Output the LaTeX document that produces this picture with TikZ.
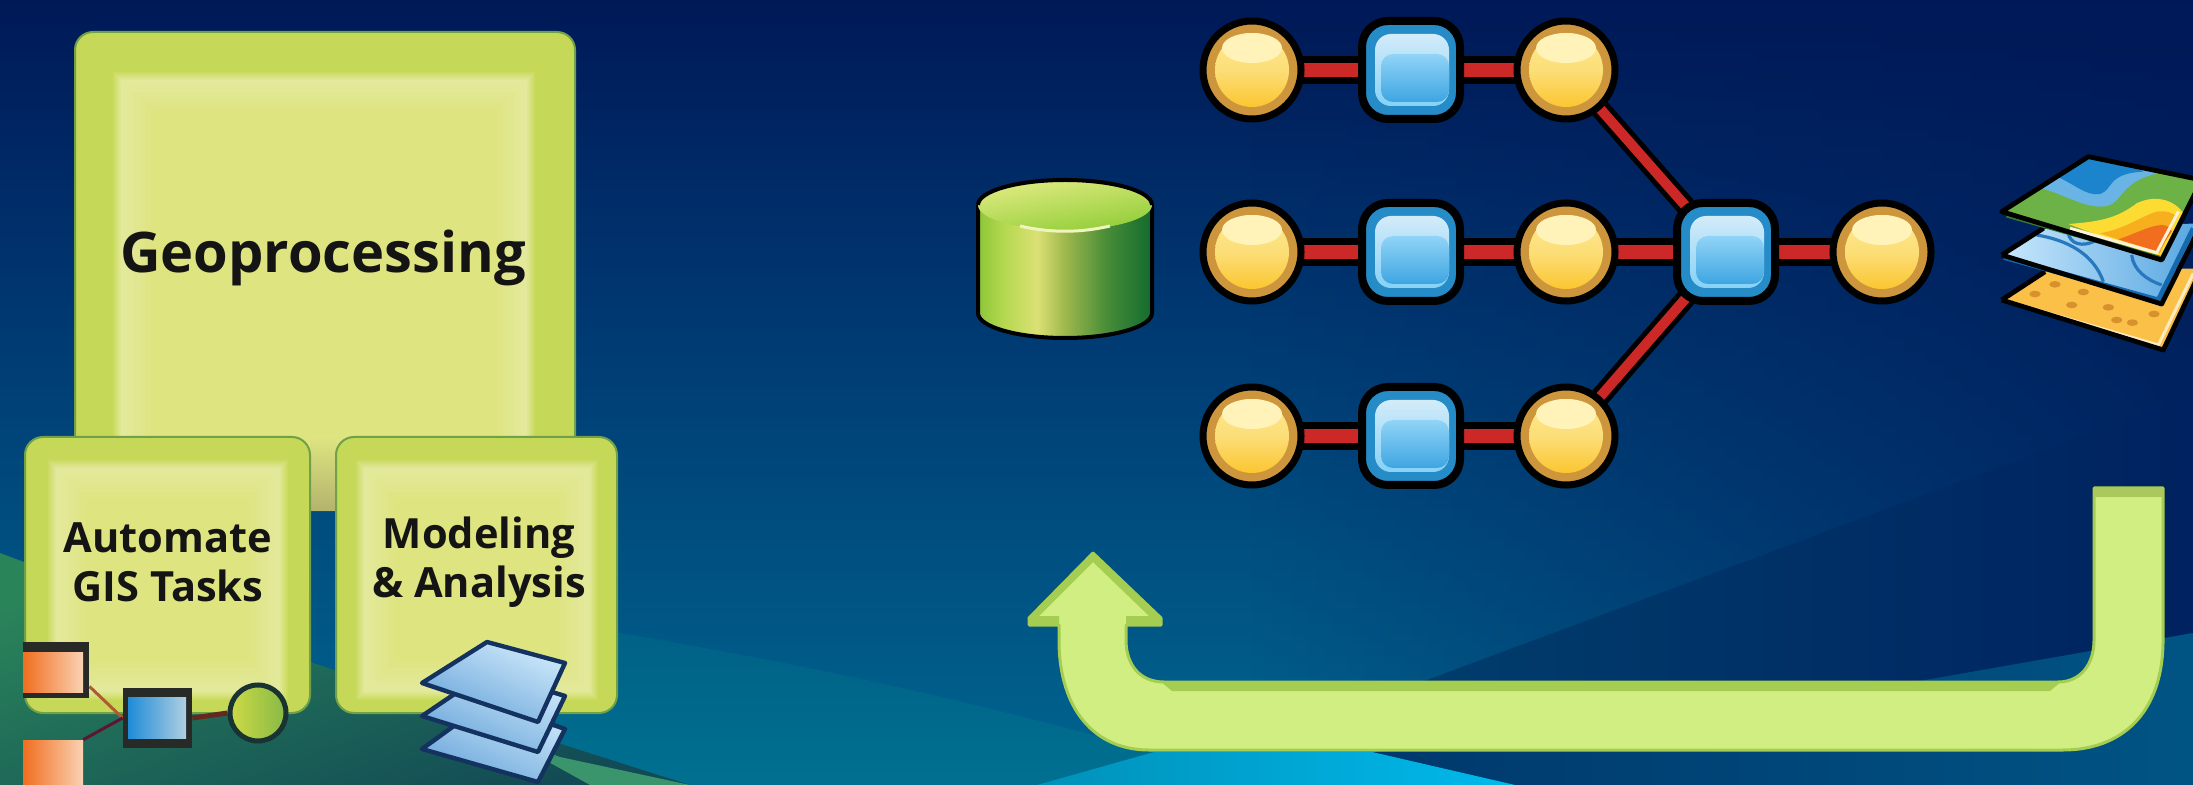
\documentclass[tikz,border=0pt]{standalone}
\usepackage{fontspec}
\setmainfont{Open Sans}
\newfontfamily\lab{Open Sans}
\usetikzlibrary{calc,fadings}
\pgfdeclarelayer{bg}\pgfdeclarelayer{panels}\pgfdeclarelayer{links}
\pgfsetlayers{bg,panels,links,main}
\definecolor{navytop}{RGB}{0,25,88}
\definecolor{bandgreen}{RGB}{198,216,88}
\definecolor{edgegreen}{RGB}{112,160,72}
\definecolor{innerlight}{RGB}{227,233,155}
\definecolor{innermid}{RGB}{222,228,128}
\definecolor{arrowfill}{RGB}{208,238,130}
\definecolor{arrowedge}{RGB}{165,205,82}
\definecolor{linkred}{RGB}{205,40,40}
\definecolor{gold}{RGB}{205,150,60}
\definecolor{blueb}{RGB}{38,140,200}
\pgfdeclareverticalshading{bgshade}{100bp}{
 rgb(0bp)=(0,0.40,0.56); rgb(25bp)=(0,0.40,0.56); rgb(42bp)=(0,0.30,0.50);
 rgb(60bp)=(0,0.19,0.42); rgb(75bp)=(0,0.095,0.34); rgb(100bp)=(0,0.095,0.34)}
\pgfdeclarehorizontalshading{cylside}{100bp}{
 rgb(0bp)=(0.55,0.78,0.22); rgb(25bp)=(0.55,0.78,0.22); rgb(33bp)=(0.72,0.85,0.32);
 rgb(42bp)=(0.86,0.88,0.46); rgb(50bp)=(0.62,0.72,0.30); rgb(62bp)=(0.28,0.55,0.22);
 rgb(75bp)=(0.07,0.42,0.18); rgb(100bp)=(0.07,0.42,0.18)}
\tikzset{
 x=0.5pt,y=-0.5pt,
 panel/.style={draw=edgegreen,line width=1pt,fill=bandgreen,rounded corners=9pt,inner sep=0pt},
 boxtext/.style={text=black!92,inner sep=0pt,align=center},
 goldnode/.style={circle,draw=black,line width=3.5pt,fill=gold,minimum size=49pt,inner sep=0pt,
  path picture={
   \shade[top color={rgb,255:red,255;green,236;blue,150},bottom color={rgb,255:red,250;green,190;blue,25},middle color={rgb,255:red,252;green,222;blue,120}]
     (path picture bounding box.center) circle[radius=18.5pt];
   \fill[fill={rgb,255:red,255;green,243;blue,185}] ([yshift=11pt]path picture bounding box.center) ellipse[x radius=15pt,y radius=7.5pt];
  }},
 bluenode/.style={rectangle,rounded corners=13pt,draw=black,line width=4pt,fill=blueb,minimum size=49pt,inner sep=0pt,
  path picture={
   \shade[top color={rgb,255:red,225;green,240;blue,250},bottom color={rgb,255:red,120;green,205;blue,245},rounded corners=8pt]
     ([xshift=-18pt,yshift=-18pt]path picture bounding box.center) rectangle ([xshift=19pt,yshift=18pt]path picture bounding box.center);
   \shade[top color={rgb,255:red,145;green,212;blue,248},bottom color={rgb,255:red,62;green,165;blue,225},rounded corners=6pt]
     ([xshift=-15pt,yshift=-16pt]path picture bounding box.center) rectangle ([xshift=19pt,yshift=8pt]path picture bounding box.center);
  }},
 linkline/.style={line width=7pt,draw=linkred,preaction={draw=black,line width=14pt}},
 diagline/.style={line width=5pt,draw=linkred,preaction={draw=black,line width=10pt}},
 orangebox/.style={rectangle,inner sep=0pt,minimum width=30pt,minimum height=20pt,
   left color={rgb,255:red,240;green,110;blue,30},right color={rgb,255:red,250;green,210;blue,180}},
 framebox/.style={rectangle,inner sep=0pt,fill={rgb,255:red,40;green,42;blue,40}},
 sheet/.style={draw={rgb,255:red,20;green,50;blue,95},line width=2.2pt,line join=round,
   left color={rgb,255:red,205;green,232;blue,250},right color={rgb,255:red,105;green,165;blue,218},shading angle=-25},
 mapedge/.style={draw=black,line width=2.4pt,line join=round},
}
\newcommand{\softpanel}[4]{%
 \foreach \i/\m in {0/18,1/40,2/62,3/82,4/100}{%
  \fill[innerlight!\m!bandgreen] ({#1+\i*2},{#2+\i*2}) rectangle ({#3-\i*2},{#4-\i*2});}
 \foreach \i/\m in {1/80,2/60,3/40,4/20,5/0}{%
  \fill[innerlight!\m!innermid] ({#1+8+\i*6},{#2+8+\i*6}) rectangle ({#3-8-\i*6},{#4-8-\i*6});}
}
\begin{document}
\begin{tikzpicture}
\useasboundingbox (0,0) rectangle (2193,785);
\clip (0,0) rectangle (2193,785);
\begin{pgfonlayer}{bg}
 \shade[shading=bgshade] (0,0) rectangle (2193,785);
 % darkening towards the right
 \fill[navytop,opacity=.75,path fading=west] (1250,0) rectangle (2193,785);
 % navy wedge at the right
 \shade[left color={rgb,255:red,0;green,62;blue,108},right color={rgb,255:red,0;green,34;blue,96}]
   (1400,690) -- (2193,395) -- (2193,785) -- (1400,785) -- cycle;
 % lower right wedge
 \shade[left color={rgb,255:red,0;green,56;blue,108},right color={rgb,255:red,0;green,84;blue,132}]
   (1925,680) -- (2193,633) -- (2193,785) -- (1515,785) -- (1372,752) -- cycle;
 % teal band
 \shade[top color={rgb,255:red,0;green,95;blue,132},bottom color={rgb,255:red,0;green,112;blue,145}]
   (480,610) .. controls (700,645) and (900,680) .. (1154,752) -- (1037,785) -- (480,785) -- cycle;
 % bright cyan
 \shade[left color={rgb,255:red,0;green,145;blue,185},right color={rgb,255:red,0;green,185;blue,235}]
   (1037,785) -- (1154,752) -- (1372,752) -- (1515,785) -- cycle;
 % hill
 \shade[top color={rgb,255:red,42;green,132;blue,90},bottom color={rgb,255:red,18;green,75;blue,85},shading angle=20]
   (0,553) .. controls (150,610) and (420,700) .. (690,785) -- (0,785) -- cycle;
 \fill[fill={rgb,255:red,58;green,148;blue,108}] (500,735) -- (560,757) -- (690,785) -- (590,785) -- cycle;
\end{pgfonlayer}
\begin{pgfonlayer}{panels}
 \node[panel,minimum width=250pt,minimum height=239pt] (geobox) at (325,271) {};
 \softpanel{113}{72}{535}{510}
 \shade[top color=innermid,bottom color={rgb,255:red,180;green,180;blue,110}] (310,437) rectangle (336,510);
 \node[panel,minimum width=142.5pt,minimum height=138pt] (autobox) at (167.5,575) {};
 \softpanel{48}{460}{288}{700}
 \node[panel,minimum width=140.5pt,minimum height=138pt] (modbox) at (476.5,575) {};
 \softpanel{356}{460}{598}{700}
\end{pgfonlayer}
% labels
\node[boxtext,font=\lab\bfseries\fontsize{28}{32}\selectfont] (geotext) at (323,258) {Geoprocessing};
\node[boxtext,font=\lab\bfseries\fontsize{20.8}{24.5}\selectfont] (autotext) at (168,562) {Automate\\GIS Tasks};
\node[boxtext,font=\lab\bfseries\fontsize{20.8}{24.5}\selectfont] (modtext) at (479,562) {Modeling\\\& Analysis};
% small flow
\node[framebox,minimum width=33pt,minimum height=28pt] (of1) at (56,670) {};
\node[orangebox] (or1) at (53,672) {};
\node[orangebox,minimum height=23pt] (or2) at (53,763) {};
\node[framebox,minimum width=34.5pt,minimum height=30pt] (ff) at (157.5,718) {};
\node[rectangle,inner sep=0pt,minimum width=29pt,minimum height=20.5pt,
  left color={rgb,255:red,30;green,140;blue,215},right color={rgb,255:red,175;green,207;blue,225}] (fb) at (157,717.5) {};
\node[circle,inner sep=0pt,minimum size=28pt,draw={rgb,255:red,25;green,50;blue,50},line width=2.5pt,
  left color={rgb,255:red,205;green,218;blue,70},right color={rgb,255:red,135;green,185;blue,70}] (fc) at (258,713) {};
\begin{pgfonlayer}{links}
 \draw[draw={rgb,255:red,175;green,90;blue,50},line width=1.5pt] (of1.south east) ++(0,-12) -- (ff.west);
 \draw[draw={rgb,255:red,95;green,20;blue,50},line width=1.5pt] (or2.north east) -- (ff.west);
 \draw[draw={rgb,255:red,100;green,40;blue,30},line width=2.5pt] (ff.east) -- (fc.west);
\end{pgfonlayer}
% stack of sheets
\foreach \d in {60,30,0}{
 \shade[sheet] (487,{642+\d*1.0}) -- (565,{663+\d*1.1}) -- (538,{722+\d}) -- (422,{683+\d*1.1}) -- cycle;
}
% cylinder
\shade[shading=cylside] (978,205) -- (978,313) arc[start angle=180,end angle=0,x radius=87,y radius=25] -- (1152,205) -- cycle;
\draw[black,line width=2pt] (978,205) -- (978,313) arc[start angle=180,end angle=0,x radius=87,y radius=25] -- (1152,205);
\shade[left color={rgb,255:red,225;green,235;blue,130},right color={rgb,255:red,145;green,205;blue,55},shading angle=10]
  (1065,205) ellipse[x radius=87,y radius=25];
\draw[black,line width=2pt] (978,205) arc[start angle=180,end angle=360,x radius=87,y radius=25];
\draw[draw={rgb,255:red,240;green,245;blue,190},line width=1.5pt] (1020,226) .. controls (1050,233) and (1080,233) .. (1110,226);
% graph
\node[goldnode] (a1) at (1252,70) {};
\node[bluenode] (b1) at (1411,70) {};
\node[goldnode] (c1) at (1566,70) {};
\node[goldnode] (a2) at (1252,252) {};
\node[bluenode] (b2) at (1411,252) {};
\node[goldnode] (c2) at (1566,252) {};
\node[bluenode] (hub) at (1726,252) {};
\node[goldnode] (d2) at (1882,252) {};
\node[goldnode] (a3) at (1252,436) {};
\node[bluenode] (b3) at (1411,436) {};
\node[goldnode] (c3) at (1566,436) {};
\begin{pgfonlayer}{links}
 \foreach \p/\q in {a1/b1,b1/c1,a2/b2,b2/c2,c2/hub,hub/d2,a3/b3,b3/c3}
  \draw[linkline] (\p.center) -- (\q.center);
 \foreach \p/\q in {c1/hub,c3/hub}
  \draw[diagline] (\p.center) -- (\q.center);
\end{pgfonlayer}
% arrow
\path[fill=arrowfill,draw=arrowedge,line width=1.5pt,line join=round]
 (1093,553) -- (1161,618) -- (1161,625) -- (1126,625) -- (1126,640)
 .. controls (1126,665) and (1140,682) .. (1164,682) -- (2058,682)
 .. controls (2080,682) and (2094,665) .. (2094,640) -- (2094,488) -- (2163,488) -- (2163,640)
 .. controls (2163,715) and (2120,750) .. (2063,750) -- (1149,750)
 .. controls (1095,750) and (1059,710) .. (1059,640) -- (1059,625) -- (1029,625) -- (1029,618) -- cycle;
\fill[arrowedge] (1160,681) -- (2062,681) -- (2050,691) -- (1172,691) -- cycle;
\fill[fill={rgb,255:red,170;green,200;blue,92}] (2094,488) rectangle (2163,497);
\fill[arrowedge] (1029,618) -- (1093,553) -- (1093,562) -- (1039,616) -- (1059,616) -- (1059,625) -- (1029,625) -- cycle;
\fill[arrowedge] (1161,618) -- (1093,553) -- (1093,562) -- (1149,616) -- (1126,616) -- (1126,625) -- (1161,625) -- cycle;
% map layers
\begin{scope}[shift={(1900,100)},scale=0.33333]
 % bottom sheet
 \fill[fill={rgb,255:red,250;green,192;blue,72}] (305,600) -- (435,515) -- (905,505) -- (790,750) -- cycle;
 \foreach \x/\y in {405/582,465/553,550/576,515/615,625/622,650/660,697/668,762/642}
  \fill[fill={rgb,255:red,215;green,145;blue,45}] (\x,\y) ellipse[x radius=17,y radius=10];
 \draw[draw={rgb,255:red,255;green,235;blue,190},line width=1.5pt] (320,603) -- (775,735) -- (880,520);
 \draw[mapedge] (305,600) -- (435,515) (905,505) -- (790,750) -- (305,600);
 % middle sheet
 \shade[left color={rgb,255:red,200;green,232;blue,252},right color={rgb,255:red,85;green,165;blue,225}]
   (305,465) -- (440,385) -- (905,370) -- (780,600) -- cycle;
 \begin{scope}
  \clip (305,465) -- (440,385) -- (905,370) -- (780,600) -- cycle;
  \draw[draw={rgb,255:red,40;green,120;blue,190},line width=1.6pt] (410,405) .. controls (500,420) and (580,460) .. (610,545);
  \draw[draw={rgb,255:red,40;green,120;blue,190},line width=1.6pt] (505,400) .. controls (510,430) and (545,445) .. (590,420);
  \draw[draw={rgb,255:red,40;green,120;blue,190},line width=1.6pt] (695,465) .. controls (700,510) and (740,540) .. (785,555);
 \end{scope}
 \draw[draw={rgb,255:red,20;green,105;blue,175},line width=2.5pt] (312,472) -- (775,600) -- (880,385);
 \draw[mapedge] (305,465) -- (430,385) (905,370) -- (785,612) -- (305,465);
 % top sheet
 \fill[fill={rgb,255:red,108;green,178;blue,70}] (565,170) -- (905,240) -- (780,470) -- (305,335) -- cycle;
 \begin{scope}
  \clip (565,170) -- (905,240) -- (780,470) -- (305,335) -- cycle;
  \fill[fill={rgb,255:red,105;green,180;blue,228}] (400,260) .. controls (470,270) and (540,320) .. (600,320)
    .. controls (680,320) and (640,240) .. (800,215) -- (600,120) -- cycle;
  \fill[fill={rgb,255:red,28;green,132;blue,205}] (470,230) .. controls (520,250) and (560,290) .. (600,282)
    .. controls (640,270) and (620,220) .. (730,215) -- (580,130) -- cycle;
  \fill[fill={rgb,255:red,252;green,220;blue,50}] (505,372) .. controls (600,365) and (650,355) .. (710,310)
    .. controls (760,285) and (820,295) .. (850,340) -- (780,475) -- cycle;
  \fill[fill={rgb,255:red,247;green,175;blue,30}] (600,400) .. controls (680,385) and (720,350) .. (770,335)
    .. controls (800,330) and (820,340) .. (830,350) -- (780,460) -- cycle;
  \fill[fill={rgb,255:red,240;green,110;blue,30}] (655,418) .. controls (710,400) and (750,375) .. (790,375)
    .. controls (805,378) and (815,385) .. (815,395) -- (775,455) -- cycle;
 \end{scope}
 \draw[draw={rgb,255:red,255;green,240;blue,215},line width=1.5pt] (510,385) -- (770,458) -- (835,335);
 \draw[draw={rgb,255:red,50;green,125;blue,50},line width=2.5pt] (320,345) -- (780,475);
 \draw[mapedge] (565,170) -- (905,240) -- (785,480) -- (305,335) -- cycle;
\end{scope}
\end{tikzpicture}
\end{document}
